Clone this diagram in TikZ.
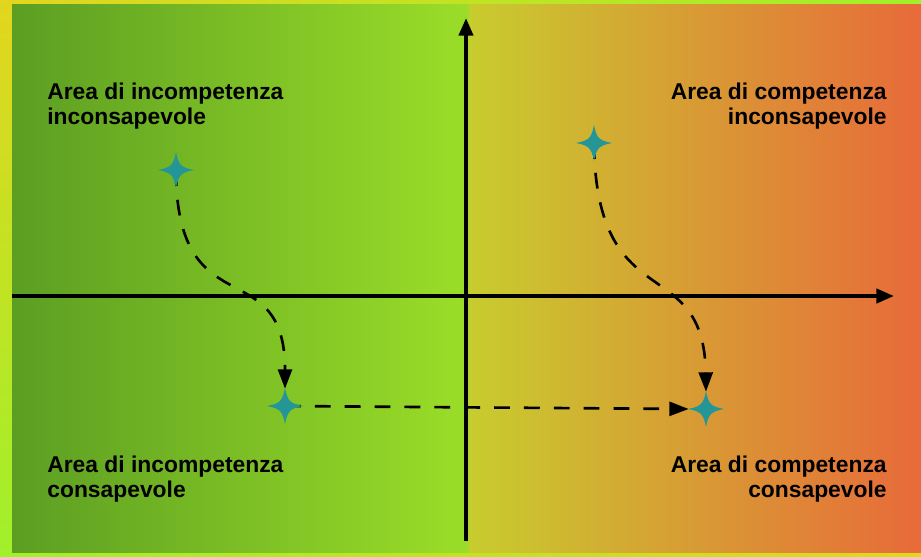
\documentclass[tikz,border=0pt]{standalone}
\usepackage{fontspec}
\setmainfont{Liberation Sans}
\usetikzlibrary{arrows.meta, positioning}
\definecolor{frameyel}{RGB}{226,214,30}
\definecolor{framegrn}{RGB}{160,240,42}
\definecolor{incleft}{RGB}{92,158,34}
\definecolor{incright}{RGB}{155,222,40}
\definecolor{compleft}{RGB}{200,204,46}
\definecolor{compright}{RGB}{232,106,58}
\definecolor{starteal}{RGB}{36,150,152}
\tikzset{
    quadlbl/.style={font=\fontsize{13}{14.7}\selectfont\bfseries, text=black, inner sep=0pt},
    axisarr/.style={line width=2.2pt, -{Triangle[length=10pt, width=8pt]}},
    route/.style={line width=1.5pt, dash pattern=on 9pt off 8pt, -{Triangle[length=11pt, width=8pt]}},
    starpt/.style={circle, minimum size=0.68cm, inner sep=0pt},
    fourstar/.pic={\fill[starteal] (18,0) .. controls (5,2.5) and (2.5,5) .. (0,18)
        .. controls (-2.5,5) and (-5,2.5) .. (-18,0) .. controls (-5,-2.5) and (-2.5,-5) .. (0,-18)
        .. controls (2.5,-5) and (5,-2.5) .. cycle;}
}

\begin{document}
\begin{tikzpicture}[x=0.02cm, y=-0.02cm]
    \useasboundingbox (0,0) rectangle (921,556);
    % frame and the two halves
    \shade[top color=frameyel, bottom color=framegrn] (0,0) rectangle (12,556);
    \shade[left color=frameyel, right color=framegrn] (0,0) rectangle (921,4);
    \shade[left color=framegrn, right color=frameyel] (0,552) rectangle (921,556);
    \shade[left color=incleft, right color=incright] (12,4) rectangle (469,552);
    \shade[left color=compleft, right color=compright] (469,4) rectangle (921,552);
    % axes
    \coordinate (ybot) at (466,541);
    \coordinate (ytop) at (466,18);
    \coordinate (xleft) at (12,296);
    \coordinate (xright) at (894,296);
    \draw[axisarr] (ybot) -- (ytop);
    \draw[axisarr] (xleft) -- (xright);
    % quadrant labels
    \node[quadlbl, anchor=west, align=left] (tl) at (47,106) {Area di incompetenza\\inconsapevole};
    \node[quadlbl, anchor=east, align=right] (tr) at (887,106) {Area di competenza\\inconsapevole};
    \node[quadlbl, anchor=west, align=left] (bl) at (47,479) {Area di incompetenza\\consapevole};
    \node[quadlbl, anchor=east, align=right] (br) at (887,479) {Area di competenza\\consapevole};
    % stars and paths
    \node[starpt] (s1) at (176,170) {};
    \node[starpt] (s2) at (285,406) {};
    \node[starpt] (s3) at (594,143) {};
    \node[starpt] (s4) at (706,409) {};
    \draw[route] (s1.center) .. controls (176,330) and (285,250) .. (s2.north);
    \draw[route] (s3.center) .. controls (596,320) and (704,250) .. (s4.north);
    \draw[route] (s2.center) -- (s4.west);
    \foreach \s in {s1,s2,s3,s4}
        \pic at (\s) {fourstar};
\end{tikzpicture}
\end{document}
